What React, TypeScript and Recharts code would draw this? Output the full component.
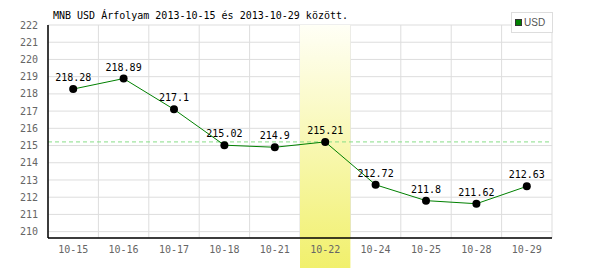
import {
  CartesianGrid,
  LabelList,
  Line,
  LineChart,
  ReferenceArea,
  ReferenceLine,
  XAxis,
  YAxis,
} from 'recharts'

const days = ['10-15', '10-16', '10-17', '10-18', '10-21', '10-22', '10-24', '10-25', '10-28', '10-29']
const usd = [218.28, 218.89, 217.1, 215.02, 214.9, 215.21, 212.72, 211.8, 211.62, 212.63]
const yTicks = [210, 211, 212, 213, 214, 215, 216, 217, 218, 219, 220, 221, 222]
const highlightDay = '10-22'
const highlightValue = 215.21

const data = days.map((d, i) => ({ idx: i, day: d, usd: usd[i] }))
const hi = days.indexOf(highlightDay)

const mono = '"DejaVu Sans Mono", monospace'

const HighlightShape = (props: any) => {
  const { x, y, width, height } = props
  return (
    <g>
      <defs>
        <linearGradient id="hiGrad" x1="0" y1="0" x2="0" y2="1">
          <stop offset="0%" stopColor="#fffff6" />
          <stop offset="100%" stopColor="#f1f06c" />
        </linearGradient>
      </defs>
      <rect x={x} y={y} width={width} height={height + 30} fill="url(#hiGrad)" />
    </g>
  )
}

// vertical grid lines sit on the band edges, not on the ticks
const bandEdges = (props: any) => {
  const off = props.offset || {}
  const left = off.left ?? 48
  const w = off.width ?? 504
  const out: number[] = []
  for (let i = 0; i <= days.length; i++) out.push(left + (w * i) / days.length)
  return out
}

export default function App() {
  return (
    <div style={{ position: 'fixed', left: 0, top: 0, width: 600, height: 270, background: '#fff' }}>
      <div
        style={{
          position: 'absolute',
          left: 53,
          top: 10,
          fontFamily: mono,
          fontSize: 10,
          color: '#000',
          whiteSpace: 'nowrap',
        }}
      >
        MNB USD Árfolyam 2013-10-15 és 2013-10-29 között.
      </div>
      <div
        style={{
          position: 'absolute',
          left: 511,
          top: 12,
          width: 40,
          height: 19,
          border: '1px solid #ddd',
          background: '#fff',
          boxSizing: 'content-box',
          zIndex: 2,
          display: 'flex',
          alignItems: 'center',
        }}
      >
        <span
          style={{
            display: 'inline-block',
            width: 5,
            height: 5,
            background: '#008000',
            border: '1px solid #333',
            marginLeft: 3,
            marginRight: 2,
          }}
        />
        <span style={{ fontFamily: '"Liberation Sans", Arial, sans-serif', fontSize: 10, color: '#555' }}>USD</span>
      </div>
      <LineChart width={600} height={270} data={data} margin={{ top: 25, right: 48, left: 0, bottom: 2 }}>
        <CartesianGrid stroke="#dddddd" verticalCoordinatesGenerator={bandEdges} />
        <ReferenceLine y={highlightValue} stroke="#88dd88" strokeDasharray="4 3" />
        <ReferenceArea
          x1={hi - 0.5}
          x2={hi + 0.5}
          y1={209.63}
          y2={222}
          ifOverflow="visible"
          shape={<HighlightShape />}
        />
        <XAxis
          dataKey="idx"
          type="number"
          domain={[-0.5, days.length - 0.5]}
          ticks={days.map((_, i) => i)}
          tickFormatter={(v: number) => days[v]}
          stroke="#000"
          strokeWidth={1.5}
          tickLine={false}
          tick={{ fontSize: 10, fontFamily: mono, fill: '#666' }}
          tickMargin={2}
          height={30}
          allowDataOverflow
        />
        <YAxis
          type="number"
          domain={[209.63, 222]}
          ticks={yTicks}
          stroke="#000"
          strokeWidth={1.5}
          tickLine={false}
          tick={{ fontSize: 10, fontFamily: mono, fill: '#666' }}
          tickMargin={4}
          width={48}
          interval={0}
          allowDataOverflow
        />
        <Line
          type="linear"
          dataKey="usd"
          stroke="#008000"
          strokeWidth={1}
          dot={{ r: 4, fill: '#000', stroke: '#000', strokeWidth: 0 }}
          activeDot={false}
          isAnimationActive={false}
        >
          <LabelList dataKey="usd" position="top" offset={8} style={{ fontSize: 10, fontFamily: mono, fill: '#000' }} />
        </Line>
      </LineChart>
    </div>
  )
}
